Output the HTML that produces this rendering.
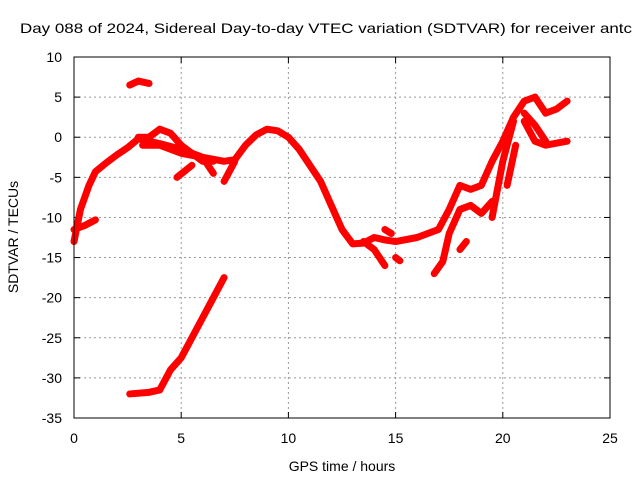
<!DOCTYPE html>
<html><head><meta charset="utf-8"><style>
body{margin:0;background:#fff}
svg text{font-family:"Liberation Sans",sans-serif;font-size:14px;fill:#000}
</style></head><body>
<svg width="640" height="480">
<text x="20" y="33" font-size="16" textLength="612" lengthAdjust="spacingAndGlyphs">Day 088 of 2024, Sidereal Day-to-day VTEC variation (SDTVAR) for receiver antc</text>
<g id="grid"></g><g id="ticks"></g><g id="marks"></g>
<rect x="74" y="57" width="536" height="361" fill="none" stroke="#000"/>
<text x="342" y="471" text-anchor="middle">GPS time / hours</text>
<text transform="translate(18,237) rotate(-90)" text-anchor="middle">SDTVAR / TECUs</text>
</svg>
<script>
const xTicks=[0,5,10,15,20,25];
const yTicks=[10,5,0,-5,-10,-15,-20,-25,-30,-35];
const mainTrace=[[0,-13],[0.3,-9],[0.7,-6],[1,-4.3],[1.5,-3.2],[2,-2.2],[2.5,-1.3],[3,-0.2],[3.5,-0.5],[4,-0.8],[5,-1.5],[6,-2.5],[7,-3],[7.5,-2.8],[8,-1],[8.5,0.3],[9,1],[9.5,0.8],[10,0],[10.5,-1.5],[11,-3.5],[11.5,-5.5],[12,-8.5],[12.5,-11.5],[13,-13.3],[13.5,-13.2],[14,-12.5],[14.5,-12.8],[15,-13],[16,-12.5],[17,-11.5],[17.5,-9],[18,-6],[18.5,-6.5],[19,-6],[19.5,-3],[20,-0.5],[20.5,2.5],[21,4.5],[21.5,5],[22,3],[22.5,3.5],[23,4.5]];
const branchA=[[3,0],[3.5,0],[4,1],[4.5,0.5],[5,-1],[5.5,-2],[6,-3],[6.5,-3]];
const branchB=[[3.2,-1],[4,-1],[5,-2],[6,-2.5],[6.5,-4.5]];
const spikeA=[[4.8,-5],[5.5,-3.5]];
const spikeB=[[7,-5.5],[7.5,-3]];
const island=[[2.6,6.5],[3,7],[3.5,6.7]];
const lowTrace=[[2.6,-32],[3.5,-31.8],[4,-31.5],[4.5,-29],[5,-27.5],[5.5,-25],[6,-22.5],[6.5,-20],[7,-17.5]];
const leftLow=[[0,-11.5],[0.5,-11],[1,-10.3]];
const branchC=[[13.5,-13],[14,-14],[14.5,-16]];
const branchD=[[14.5,-11.5],[14.8,-12]];
const branchE=[[15,-15],[15.2,-15.4]];
const branchF=[[16.8,-17],[17.2,-15.5],[17.5,-12],[18,-9],[18.5,-8.5],[19,-9.5],[19.5,-8]];
const spikeC=[[18,-14],[18.3,-13]];
const branchG=[[19.5,-10],[20,-3],[20.5,2]];
const branchH=[[20.2,-6],[20.6,-1]];
const branchI=[[21,2],[21.5,-0.5],[22,-1],[23,-0.5]];
const branchJ=[[21,3],[21.5,1.5],[22,-0.5]];
const series=[mainTrace,branchA,branchB,spikeA,spikeB,island,lowTrace,leftLow,branchC,branchD,branchE,branchF,spikeC,branchG,branchH,branchI,branchJ];
const px=x=>74+x*536/25, py=v=>57+(10-v)*361/45;
const NS='http://www.w3.org/2000/svg';
const grid=document.getElementById('grid'),ticks=document.getElementById('ticks'),marks=document.getElementById('marks');
function mk(tag,attrs,parent){const e=document.createElementNS(NS,tag);for(const k in attrs)e.setAttribute(k,attrs[k]);parent.appendChild(e);return e;}
xTicks.forEach(t=>{const x=px(t);
 if(t>0&&t<25){const l=mk('line',{x1:x,y1:57,x2:x,y2:418,stroke:'#999','stroke-dasharray':'2,3'},grid);
 }
 mk('line',{x1:x,y1:418,x2:x,y2:412,stroke:'#000'},ticks);mk('line',{x1:x,y1:57,x2:x,y2:63,stroke:'#000'},ticks);
 const tx=mk('text',{x:x,y:443,'text-anchor':'middle'},ticks);tx.textContent=t;
 });
yTicks.forEach(t=>{const y=py(t);
 if(t<10&&t>-35){const l=mk('line',{x1:74,y1:y,x2:610,y2:y,stroke:'#999','stroke-dasharray':'2,3'},grid);
 }
 mk('line',{x1:74,y1:y,x2:80,y2:y,stroke:'#000'},ticks);mk('line',{x1:610,y1:y,x2:604,y2:y,stroke:'#000'},ticks);
 const tx=mk('text',{x:62,y:y+5,'text-anchor':'end'},ticks);tx.textContent=t;
 });
series.forEach(s=>{const p=mk('polyline',{points:s.map(d=>px(d[0])+','+py(d[1])).join(' '),fill:'none',stroke:'#f00','stroke-width':7,'stroke-linejoin':'round','stroke-linecap':'round'},marks);
 });
</script>
</body></html>
